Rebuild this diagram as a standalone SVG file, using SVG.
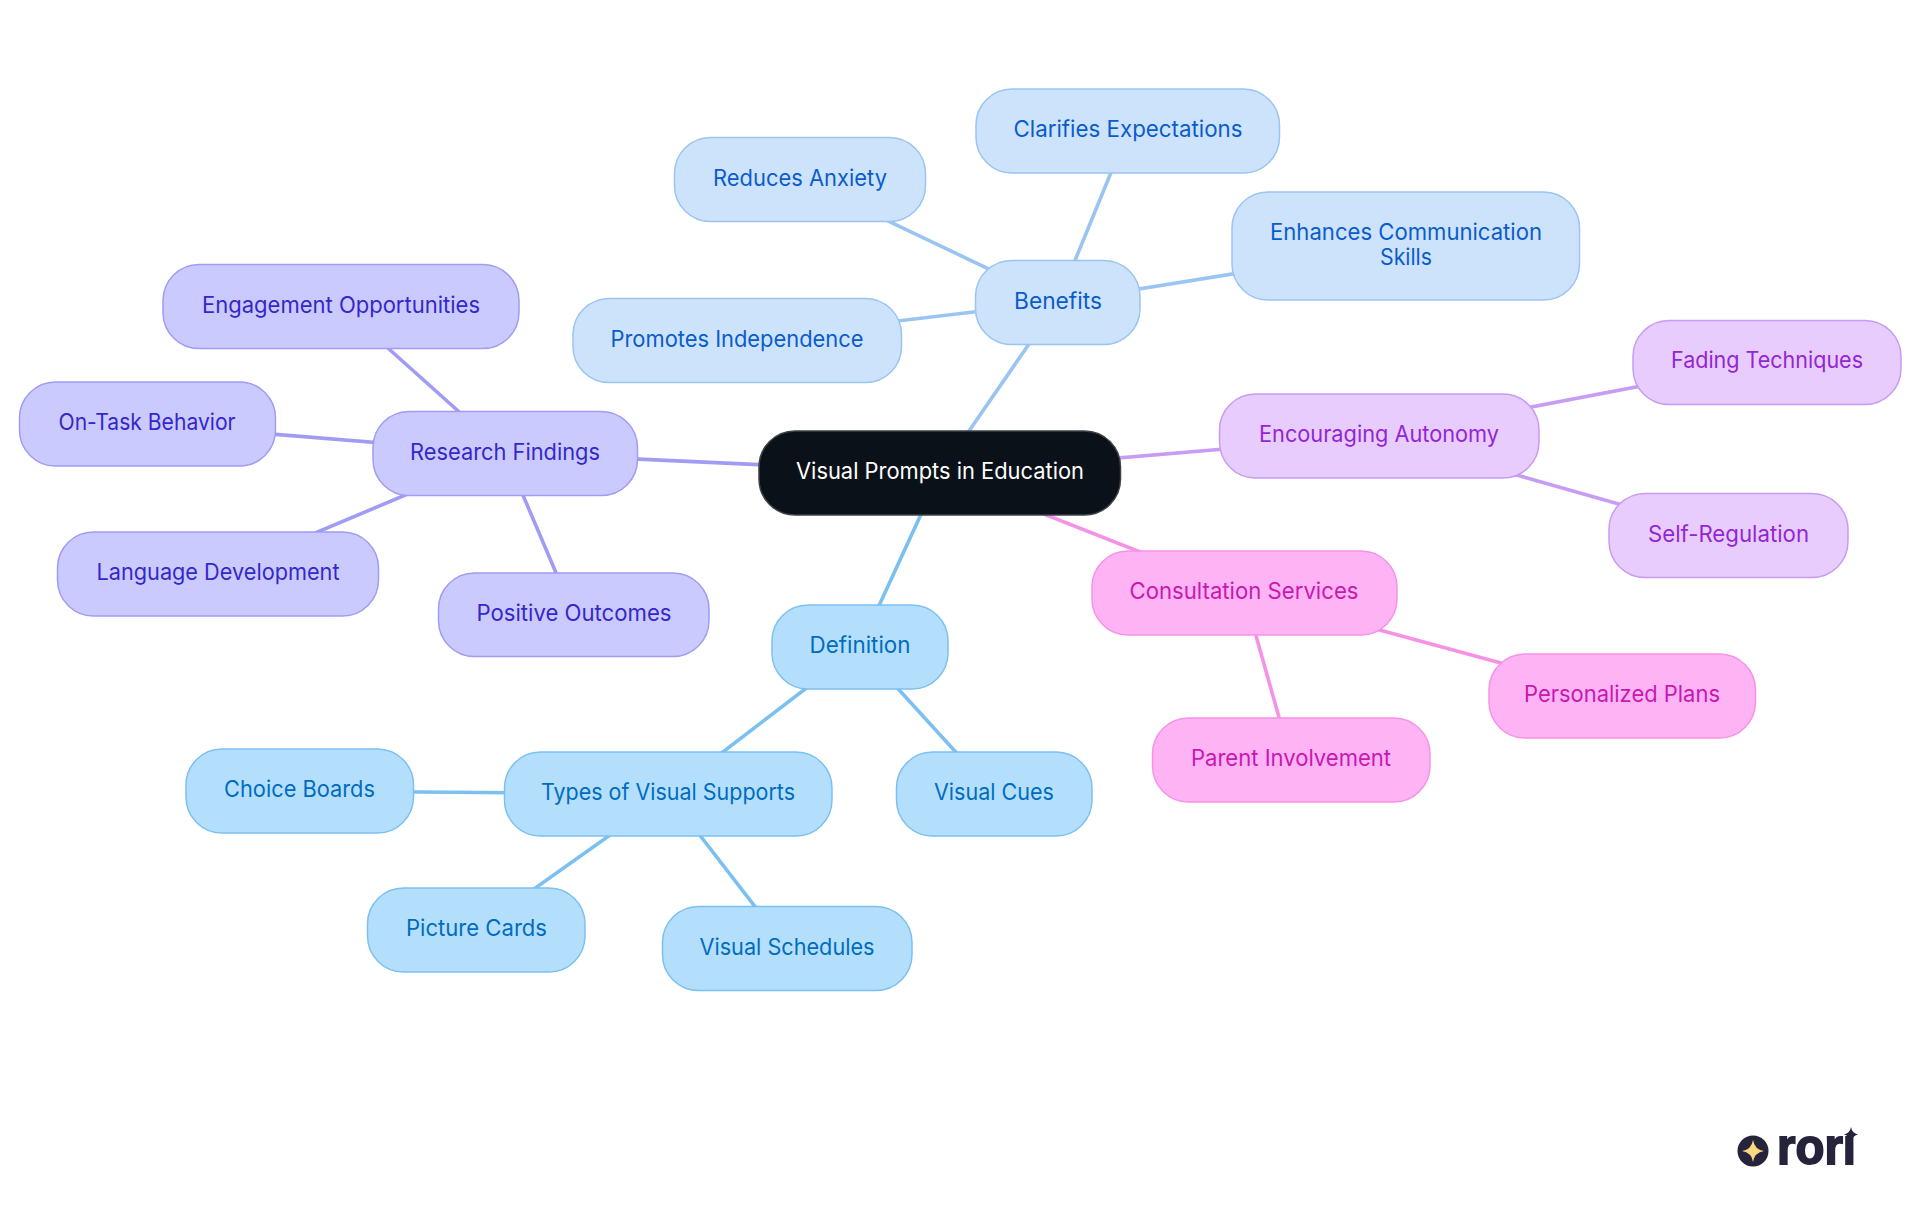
<svg xmlns="http://www.w3.org/2000/svg" width="1920" height="1215" viewBox="0 0 1920 1215">
<style>
text{font-family:"Inter","Noto Sans",sans-serif;font-size:22.5px;font-weight:370;text-anchor:middle}
.n{stroke-width:1.5}
.c line{stroke-width:3.6;fill:none}
.root rect{fill:#0b1119;stroke:#3d4249}.root text{fill:#fff}
.def rect{fill:#b3dffd;stroke:#7cc0f1}.def text{fill:#006cbf}
.ben rect{fill:#cde3fc;stroke:#9ac4f2}.ben text{fill:#0b5ccb}
.res rect{fill:#cbcafe;stroke:#a09cf4}.res text{fill:#3428cc}
.enc rect{fill:#e7ccfd;stroke:#c79cf2}.enc text{fill:#9326d4}
.con rect{fill:#feb3f5;stroke:#f692e6}.con text{fill:#c818b0}
.lb{stroke:#9ac4f2}.ld{stroke:#7cc0f1}.lr{stroke:#a09cf4}.le{stroke:#c79cf2}.lc{stroke:#f692e6}
</style>
<defs><clipPath id="logoclip"><rect x="1770" y="1136" width="95" height="32"/></clipPath></defs>
<rect width="1920" height="1215" fill="#fff"/>
<g id="connectors" class="c">
<line class="lb" x1="940" y1="473" x2="1058" y2="302"/>
<line class="lb" x1="1058" y1="302" x2="1128" y2="131"/>
<line class="lb" x1="1058" y1="302" x2="800" y2="179"/>
<line class="lb" x1="1058" y1="302" x2="1406" y2="246"/>
<line class="lb" x1="1058" y1="302" x2="737" y2="340"/>
<line class="lr" x1="940" y1="473" x2="505" y2="453"/>
<line class="lr" x1="505" y1="453" x2="341" y2="306"/>
<line class="lr" x1="505" y1="453" x2="147" y2="424"/>
<line class="lr" x1="505" y1="453" x2="218" y2="574"/>
<line class="lr" x1="505" y1="453" x2="574" y2="615"/>
<line class="le" x1="940" y1="473" x2="1379" y2="436"/>
<line class="le" x1="1379" y1="436" x2="1767" y2="362"/>
<line class="le" x1="1379" y1="436" x2="1728" y2="535"/>
<line class="lc" x1="940" y1="473" x2="1244" y2="593"/>
<line class="lc" x1="1244" y1="593" x2="1622" y2="696"/>
<line class="lc" x1="1244" y1="593" x2="1291" y2="760"/>
<line class="ld" x1="940" y1="473" x2="860" y2="647"/>
<line class="ld" x1="860" y1="647" x2="668" y2="794"/>
<line class="ld" x1="860" y1="647" x2="994" y2="794"/>
<line class="ld" x1="668" y1="794" x2="300" y2="791"/>
<line class="ld" x1="668" y1="794" x2="476" y2="930"/>
<line class="ld" x1="668" y1="794" x2="787" y2="948"/>
</g>
<g id="root" class="root"><rect class="n" x="759" y="431" width="361.500" height="84" rx="36"/><text x="940" y="479" textLength="288" lengthAdjust="spacingAndGlyphs">Visual Prompts in Education</text></g>
<g id="benefits" class="ben"><rect class="n" x="975.5" y="260.5" width="164.500" height="84" rx="36"/><text x="1058" y="309" textLength="88" lengthAdjust="spacingAndGlyphs">Benefits</text></g>
<g id="clarifies" class="ben"><rect class="n" x="976" y="89" width="303.500" height="84" rx="36"/><text x="1128" y="137" textLength="229" lengthAdjust="spacingAndGlyphs">Clarifies Expectations</text></g>
<g id="anxiety" class="ben"><rect class="n" x="674.5" y="137.5" width="251" height="84" rx="36"/><text x="800" y="186" textLength="174" lengthAdjust="spacingAndGlyphs">Reduces Anxiety</text></g>
<g id="communication" class="ben"><rect class="n" x="1232" y="192" width="347.500" height="108" rx="36"/><text x="1406" y="240" textLength="272" lengthAdjust="spacingAndGlyphs">Enhances Communication</text><text x="1406" y="265" textLength="52" lengthAdjust="spacingAndGlyphs">Skills</text></g>
<g id="independence" class="ben"><rect class="n" x="573" y="298.5" width="328.500" height="84" rx="36"/><text x="737" y="347" textLength="253" lengthAdjust="spacingAndGlyphs">Promotes Independence</text></g>
<g id="research" class="res"><rect class="n" x="373" y="411.5" width="264.500" height="84" rx="36"/><text x="505" y="460" textLength="190" lengthAdjust="spacingAndGlyphs">Research Findings</text></g>
<g id="engagement" class="res"><rect class="n" x="163" y="264.5" width="356" height="84" rx="36"/><text x="341" y="313" textLength="278" lengthAdjust="spacingAndGlyphs">Engagement Opportunities</text></g>
<g id="ontask" class="res"><rect class="n" x="19.5" y="382" width="256" height="84" rx="36"/><text x="147" y="430" textLength="177" lengthAdjust="spacingAndGlyphs">On-Task Behavior</text></g>
<g id="language" class="res"><rect class="n" x="57.5" y="532" width="321" height="84" rx="36"/><text x="218" y="580" textLength="243" lengthAdjust="spacingAndGlyphs">Language Development</text></g>
<g id="positive" class="res"><rect class="n" x="438.500" y="573" width="270.500" height="83.500" rx="36"/><text x="574" y="621" textLength="195" lengthAdjust="spacingAndGlyphs">Positive Outcomes</text></g>
<g id="autonomy" class="enc"><rect class="n" x="1219.5" y="394" width="319.5" height="84" rx="36"/><text x="1379" y="442" textLength="240" lengthAdjust="spacingAndGlyphs">Encouraging Autonomy</text></g>
<g id="fading" class="enc"><rect class="n" x="1633" y="320.5" width="268" height="84" rx="36"/><text x="1767" y="368" textLength="192" lengthAdjust="spacingAndGlyphs">Fading Techniques</text></g>
<g id="selfreg" class="enc"><rect class="n" x="1609" y="493.5" width="239" height="84" rx="36"/><text x="1728.500" y="542" textLength="161" lengthAdjust="spacingAndGlyphs">Self-Regulation</text></g>
<g id="consultation" class="con"><rect class="n" x="1092" y="551" width="305" height="84" rx="36"/><text x="1244" y="599" textLength="229" lengthAdjust="spacingAndGlyphs">Consultation Services</text></g>
<g id="personalized" class="con"><rect class="n" x="1489" y="654" width="266.500" height="84" rx="36"/><text x="1622" y="702" textLength="196" lengthAdjust="spacingAndGlyphs">Personalized Plans</text></g>
<g id="parent" class="con"><rect class="n" x="1152.500" y="718" width="277.500" height="84" rx="36"/><text x="1291" y="766" textLength="200" lengthAdjust="spacingAndGlyphs">Parent Involvement</text></g>
<g id="definition" class="def"><rect class="n" x="772" y="605" width="176" height="84" rx="36"/><text x="860" y="653" textLength="101" lengthAdjust="spacingAndGlyphs">Definition</text></g>
<g id="types" class="def"><rect class="n" x="504.5" y="752" width="327.500" height="84" rx="36"/><text x="668" y="800" textLength="254" lengthAdjust="spacingAndGlyphs">Types of Visual Supports</text></g>
<g id="cues" class="def"><rect class="n" x="896.500" y="752" width="195.500" height="84" rx="36"/><text x="994" y="800" textLength="120" lengthAdjust="spacingAndGlyphs">Visual Cues</text></g>
<g id="choice" class="def"><rect class="n" x="186" y="749" width="227.500" height="84" rx="36"/><text x="299.500" y="797" textLength="151" lengthAdjust="spacingAndGlyphs">Choice Boards</text></g>
<g id="picture" class="def"><rect class="n" x="367.500" y="888" width="217.500" height="84" rx="36"/><text x="476.500" y="936" textLength="141" lengthAdjust="spacingAndGlyphs">Picture Cards</text></g>
<g id="schedules" class="def"><rect class="n" x="662.5" y="906.5" width="249.500" height="84" rx="36"/><text x="787" y="955" textLength="175" lengthAdjust="spacingAndGlyphs">Visual Schedules</text></g>
<g id="logo">
<circle cx="1753" cy="1151" r="15.500" fill="#25243a"/>
<path d="M1753 1140Q1754.500 1149.500 1764 1151Q1754.500 1152.500 1753 1162Q1751.500 1152.500 1742 1151Q1751.500 1149.500 1753 1140Z" fill="#fcd77f"/>
<g clip-path="url(#logoclip)"><text x="1816.500" y="1164" style="font-family:'Liberation Sans',sans-serif;font-weight:700;font-size:50px;fill:#25243a;stroke:#25243a;stroke-width:1.800" textLength="79" lengthAdjust="spacingAndGlyphs">rori</text></g>
<path d="M1851 1127Q1852 1133 1858 1134.500Q1852 1136 1851 1142Q1850 1136 1844 1134.500Q1850 1133 1851 1127Z" fill="#25243a"/>
</g>
</svg>
